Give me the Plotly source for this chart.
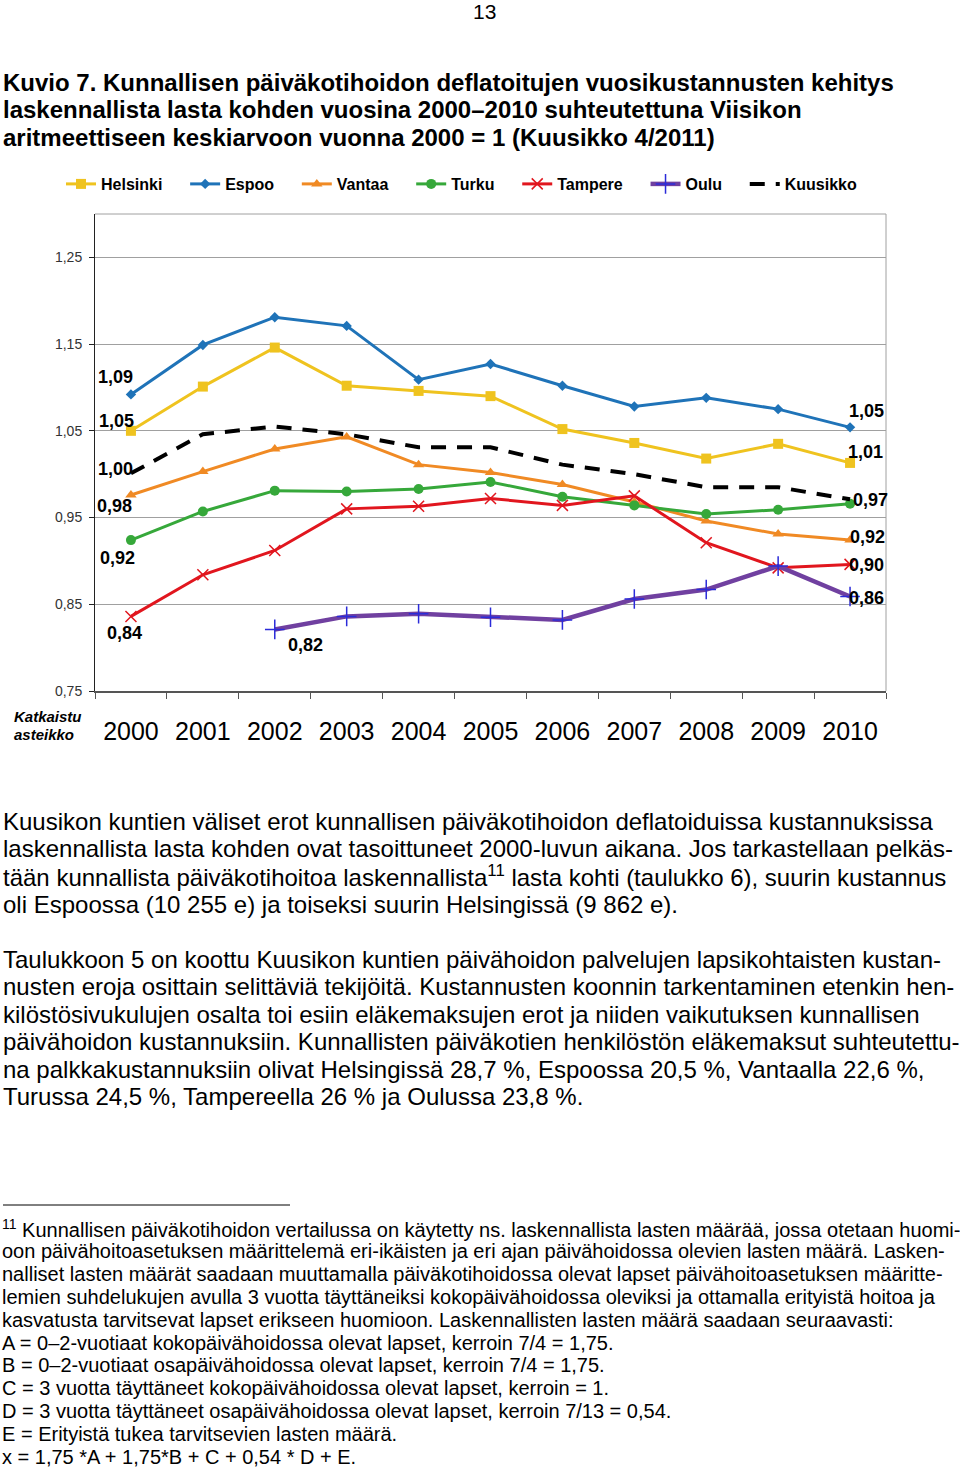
import plotly.graph_objects as go

years = ["2000", "2001", "2002", "2003", "2004", "2005", "2006", "2007", "2008", "2009", "2010"]
helsinki = [1.050, 1.101, 1.146, 1.102, 1.096, 1.090, 1.052, 1.036, 1.018, 1.035, 1.013]
espoo = [1.092, 1.149, 1.181, 1.171, 1.109, 1.127, 1.102, 1.078, 1.088, 1.075, 1.054]
vantaa = [0.976, 1.003, 1.029, 1.043, 1.011, 1.002, 0.988, 0.968, 0.946, 0.931, 0.924]
turku = [0.924, 0.957, 0.981, 0.980, 0.983, 0.991, 0.974, 0.964, 0.954, 0.959, 0.966]
tampere = [0.836, 0.884, 0.912, 0.960, 0.963, 0.972, 0.964, 0.975, 0.921, 0.892, 0.896]
oulu = [None, None, 0.821, 0.836, 0.839, 0.835, 0.832, 0.856, 0.867, 0.894, 0.859]
kuusikko = [1.001, 1.046, 1.055, 1.046, 1.031, 1.031, 1.011, 1.000, 0.985, 0.985, 0.971]
ytick_vals = [0.75, 0.85, 0.95, 1.05, 1.15, 1.25]
ytick_text = ["0,75", "0,85", "0,95", "1,05", "1,15", "1,25"]

title_lines = [
    "Kuvio 7. Kunnallisen päiväkotihoidon deflatoitujen vuosikustannusten kehitys",
    "laskennallista lasta kohden vuosina 2000–2010 suhteutettuna Viisikon",
    "aritmeettiseen keskiarvoon vuonna 2000 = 1 (Kuusikko 4/2011)",
]
para1 = [
    "Kuusikon kuntien väliset erot kunnallisen päiväkotihoidon deflatoiduissa kustannuksissa",
    "laskennallista lasta kohden ovat tasoittuneet 2000-luvun aikana. Jos tarkastellaan pelkäs-",
    "tään kunnallista päiväkotihoitoa laskennallista<sup>11</sup> lasta kohti (taulukko 6), suurin kustannus",
    "oli Espoossa (10 255 e) ja toiseksi suurin Helsingissä (9 862 e).",
]
para2 = [
    "Taulukkoon 5 on koottu Kuusikon kuntien päivähoidon palvelujen lapsikohtaisten kustan-",
    "nusten eroja osittain selittäviä tekijöitä. Kustannusten koonnin tarkentaminen etenkin hen-",
    "kilöstösivukulujen osalta toi esiin eläkemaksujen erot ja niiden vaikutuksen kunnallisen",
    "päivähoidon kustannuksiin. Kunnallisten päiväkotien henkilöstön eläkemaksut suhteutettu-",
    "na palkkakustannuksiin olivat Helsingissä 28,7 %, Espoossa 20,5 %, Vantaalla 22,6 %,",
    "Turussa 24,5 %, Tampereella 26 % ja Oulussa 23,8 %.",
]
foot = [
    "<sup>11</sup> Kunnallisen päiväkotihoidon vertailussa on käytetty ns. laskennallista lasten määrää, jossa otetaan huomi-",
    "oon päivähoitoasetuksen määrittelemä eri-ikäisten ja eri ajan päivähoidossa olevien lasten määrä. Lasken-",
    "nalliset lasten määrät saadaan muuttamalla päiväkotihoidossa olevat lapset päivähoitoasetuksen määritte-",
    "lemien suhdelukujen avulla 3 vuotta täyttäneiksi kokopäivähoidossa oleviksi ja ottamalla erityistä hoitoa ja",
    "kasvatusta tarvitsevat lapset erikseen huomioon. Laskennallisten lasten määrä saadaan seuraavasti:",
    "A = 0–2-vuotiaat kokopäivähoidossa olevat lapset, kerroin 7/4 = 1,75.",
    "B = 0–2-vuotiaat osapäivähoidossa olevat lapset, kerroin 7/4 = 1,75.",
    "C = 3 vuotta täyttäneet kokopäivähoidossa olevat lapset, kerroin = 1.",
    "D = 3 vuotta täyttäneet osapäivähoidossa olevat lapset, kerroin 7/13 = 0,54.",
    "E = Erityistä tukea tarvitsevien lasten määrä.",
    "x = 1,75 *A + 1,75*B + C + 0,54 * D + E.",
]

W, H = 960, 1471
L, R, T, B = 95, 886, 214, 691
FONT = "Liberation Sans, Arial, sans-serif"
NB = "\u00a0"


def px(x):
    return (x - L) / (R - L)


def py(y):
    return (B - y) / (B - T)


fig = go.Figure()

series = [
    ("Helsinki", helsinki, "#EFC31F", dict(symbol="square", size=10, color="#EFC31F"), 3, None),
    ("Espoo", espoo, "#1F73B8", dict(symbol="diamond", size=8, color="#1F73B8"), 3, None),
    ("Vantaa", vantaa, "#F08A24", dict(symbol="triangle-up", size=10, color="#F08A24"), 3, None),
    ("Turku", turku, "#36A83A", dict(symbol="circle", size=10, color="#36A83A"), 3, None),
    ("Tampere", tampere, "#E1161E",
     dict(symbol="x-thin", size=11, color="#E1161E", line=dict(color="#E1161E", width=1.5)), 3, None),
    ("Oulu", oulu, "#7040A0",
     dict(symbol="cross-thin", size=14, color="#2B2BD9", line=dict(color="#2B2BD9", width=1.5)), 4.5, None),
    ("Kuusikko", kuusikko, "#000000", None, 4, "15px,11px"),
]

for name, vals, col, mk, lw, dash in series:
    fig.add_trace(go.Scatter(
        x=years, y=vals, name=name + NB * 4,
        mode="lines+markers" if mk else "lines",
        line=dict(color=col, width=lw, dash=dash),
        marker=mk,
        connectgaps=False,
    ))

# data labels (series, year index, xshift, yshift)
labels = [
    (espoo, 0, -15, 17), (helsinki, 0, -14, 10), (kuusikko, 0, -15, 4),
    (vantaa, 0, -16, -11), (turku, 0, -13, -18), (tampere, 0, -6, -17),
    (oulu, 2, 31, -16),
    (espoo, 10, 16, 16), (helsinki, 10, 15, 11), (kuusikko, 10, 20, -1),
    (vantaa, 10, 17, 3), (tampere, 10, 16, -1), (oulu, 10, 16, -2),
]
for vals, i, dx, dy in labels:
    v = vals[i]
    fig.add_annotation(x=i, y=v, xref="x", yref="y",
                       text="<b>" + f"{v:.2f}".replace(".", ",") + "</b>", showarrow=False,
                       xshift=dx, yshift=dy,
                       font=dict(family=FONT, size=18, color="#000000"))


def text_at(xpix, ypix, txt, size, bold=False, italic=False, anchor="left", color="#000000"):
    t = txt
    if bold:
        t = "<b>" + t + "</b>"
    if italic:
        t = "<i>" + t + "</i>"
    fig.add_annotation(x=px(xpix), y=py(ypix), xref="paper", yref="paper",
                       text=t, showarrow=False, xanchor=anchor, yanchor="middle",
                       font=dict(family=FONT, size=size, color=color))


text_at(484, 12, "13", 21, anchor="center")
for k, line in enumerate(title_lines):
    text_at(1, 82 + k * 27.5, line, 24, bold=True)
for k, line in enumerate(para1):
    text_at(1, 821 + k * 27.7, line, 24)
for k, line in enumerate(para2):
    text_at(1, 959 + k * 27.5, line, 24)
for k, line in enumerate(foot):
    text_at(0, 1228 + k * 22.9, line, 20)
text_at(12, 716, "Katkaistu", 15, bold=True, italic=True)
text_at(12, 734, "asteikko", 15, bold=True, italic=True)

# plot border top/right, footnote rule
fig.add_shape(type="line", xref="paper", yref="paper", x0=0, x1=1, y0=1, y1=1,
              line=dict(color="#A0A0A0", width=1))
fig.add_shape(type="line", xref="paper", yref="paper", x0=1, x1=1, y0=0, y1=1,
              line=dict(color="#A0A0A0", width=1))
fig.add_shape(type="line", xref="paper", yref="paper", x0=px(3), x1=px(290), y0=py(1205), y1=py(1205),
              line=dict(color="#000000", width=1))

fig.update_layout(
    width=W, height=H,
    margin=dict(l=L, r=W - R, t=T, b=H - B),
    paper_bgcolor="white", plot_bgcolor="white",
    font=dict(family=FONT, color="#000000"),
    showlegend=True,
    legend=dict(orientation="h", x=px(61), y=py(184), xanchor="left", yanchor="middle",
                font=dict(family=FONT, size=16, color="#000000", weight="bold"),
                itemwidth=30, tracegroupgap=0, bgcolor="rgba(0,0,0,0)"),
    xaxis=dict(type="category", range=[-0.5, 10.5], showgrid=False, zeroline=False,
               showline=True, linecolor="#555555", linewidth=2,
               ticks="outside", tickson="boundaries", ticklen=6, tickcolor="#555555", tickwidth=1,
               tickfont=dict(family=FONT, size=25, color="#000000"), ticklabelstandoff=17,
               fixedrange=True),
    yaxis=dict(range=[0.75, 1.30], tickvals=ytick_vals, ticktext=ytick_text,
               showgrid=True, gridcolor="#A0A0A0", gridwidth=1, zeroline=False,
               showline=True, linecolor="#222222", linewidth=1,
               ticks="outside", ticklen=5, tickcolor="#222222",
               tickfont=dict(family=FONT, size=14, color="#333333"), ticklabelstandoff=4,
               fixedrange=True),
)

fig.write_html("out.html", config={"displayModeBar": False},
               post_script="document.body.style.margin='0px';document.body.style.overflow='hidden';")
